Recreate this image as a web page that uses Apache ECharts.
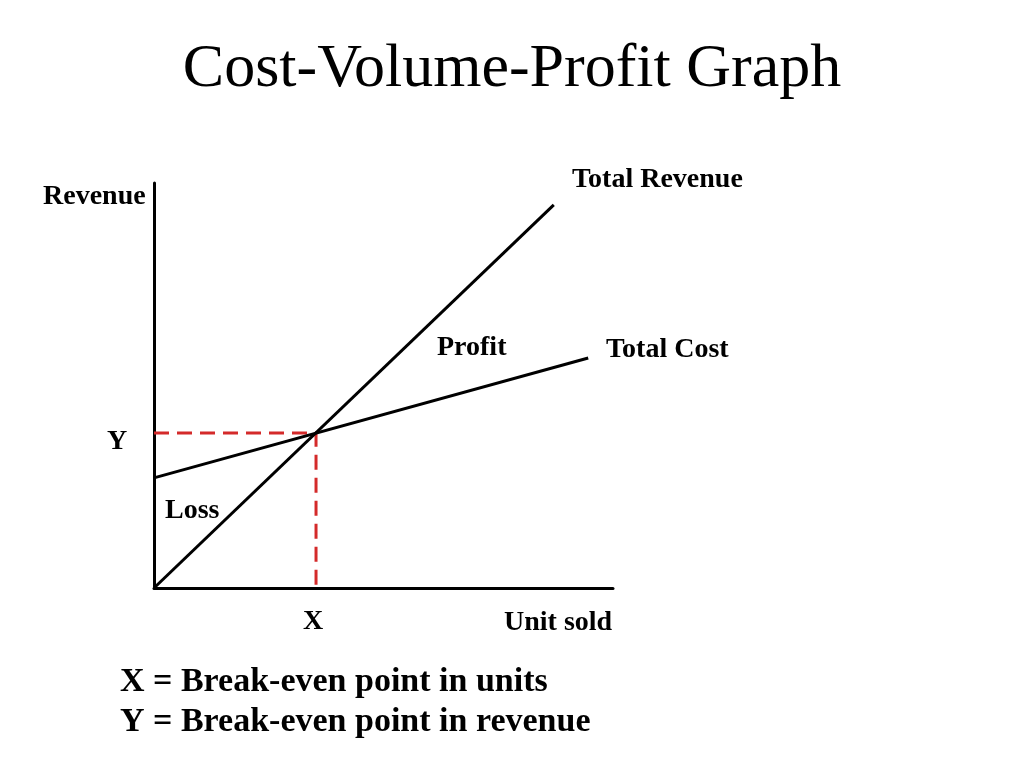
<!DOCTYPE html>
<html><head><meta charset="utf-8">
<script src="https://cdn.jsdelivr.net/npm/echarts@6/dist/echarts.min.js"></script>
<style>html,body{margin:0;padding:0;background:#fff}#c{width:1024px;height:768px}</style>
</head><body><div id="c"></div>
<script>
const revenueLine = [[0, 0], [87.1, 94.6]];
const costLine = [[0, 27.2], [94.6, 56.8]];
const breakEven = [35.3, 38.3];
const guideLine = [[0, breakEven[1]], [breakEven[0], breakEven[1]], [breakEven[0], 0]];
const titleText = 'Cost-Volume-Profit Graph';
const legendLines = ['X = Break-even point in units', 'Y = Break-even point in revenue'];

const F = '"Liberation Serif","Times New Roman",serif';
const chart = echarts.init(document.getElementById('c'));
const lbl = (text, x, y, size, align) => ({
  type: 'text', x: x, y: y,
  style: { text: text, font: 'bold ' + size + 'px ' + F, fill: '#000', textAlign: align || 'left', textVerticalAlign: 'middle' }
});
chart.setOption({
  animation: false,
  backgroundColor: '#fff',
  grid: { left: 154, top: 183, width: 459, height: 405 },
  xAxis: { type: 'value', min: 0, max: 100, axisLine: { onZero: false, lineStyle: { color: '#000', width: 3 } },
    axisTick: { show: false }, axisLabel: { show: false }, splitLine: { show: false } },
  yAxis: { type: 'value', min: 0, max: 100, axisLine: { show: true, onZero: false, lineStyle: { color: '#000', width: 3 } },
    axisTick: { show: false }, axisLabel: { show: false }, splitLine: { show: false } },
  series: [
    { type: 'line', data: guideLine, symbol: 'none', lineStyle: { color: '#d42a2a', width: 3, type: [15, 8] } },
    { type: 'line', name: 'Total Revenue', data: revenueLine, symbol: 'none', lineStyle: { color: '#000', width: 3 } },
    { type: 'line', name: 'Total Cost', data: costLine, symbol: 'none', lineStyle: { color: '#000', width: 3 } }
  ],
  graphic: [
    { type: 'text', x: 512, y: 70, style: { text: titleText, font: '62px ' + F, fill: '#000', textAlign: 'center', textVerticalAlign: 'middle' } },
    lbl('Revenue', 43, 197, 28),
    lbl('Total Revenue', 572, 180, 28),
    lbl('Profit', 437, 348, 28),
    lbl('Total Cost', 606, 350, 28),
    lbl('Y', 107, 442, 28),
    lbl('Loss', 165, 511, 28),
    lbl('X', 303, 622, 28),
    lbl('Unit sold', 504, 623, 28),
    lbl(legendLines[0], 120, 682, 34),
    lbl(legendLines[1], 120, 722, 34)
  ]
});
</script></body></html>
